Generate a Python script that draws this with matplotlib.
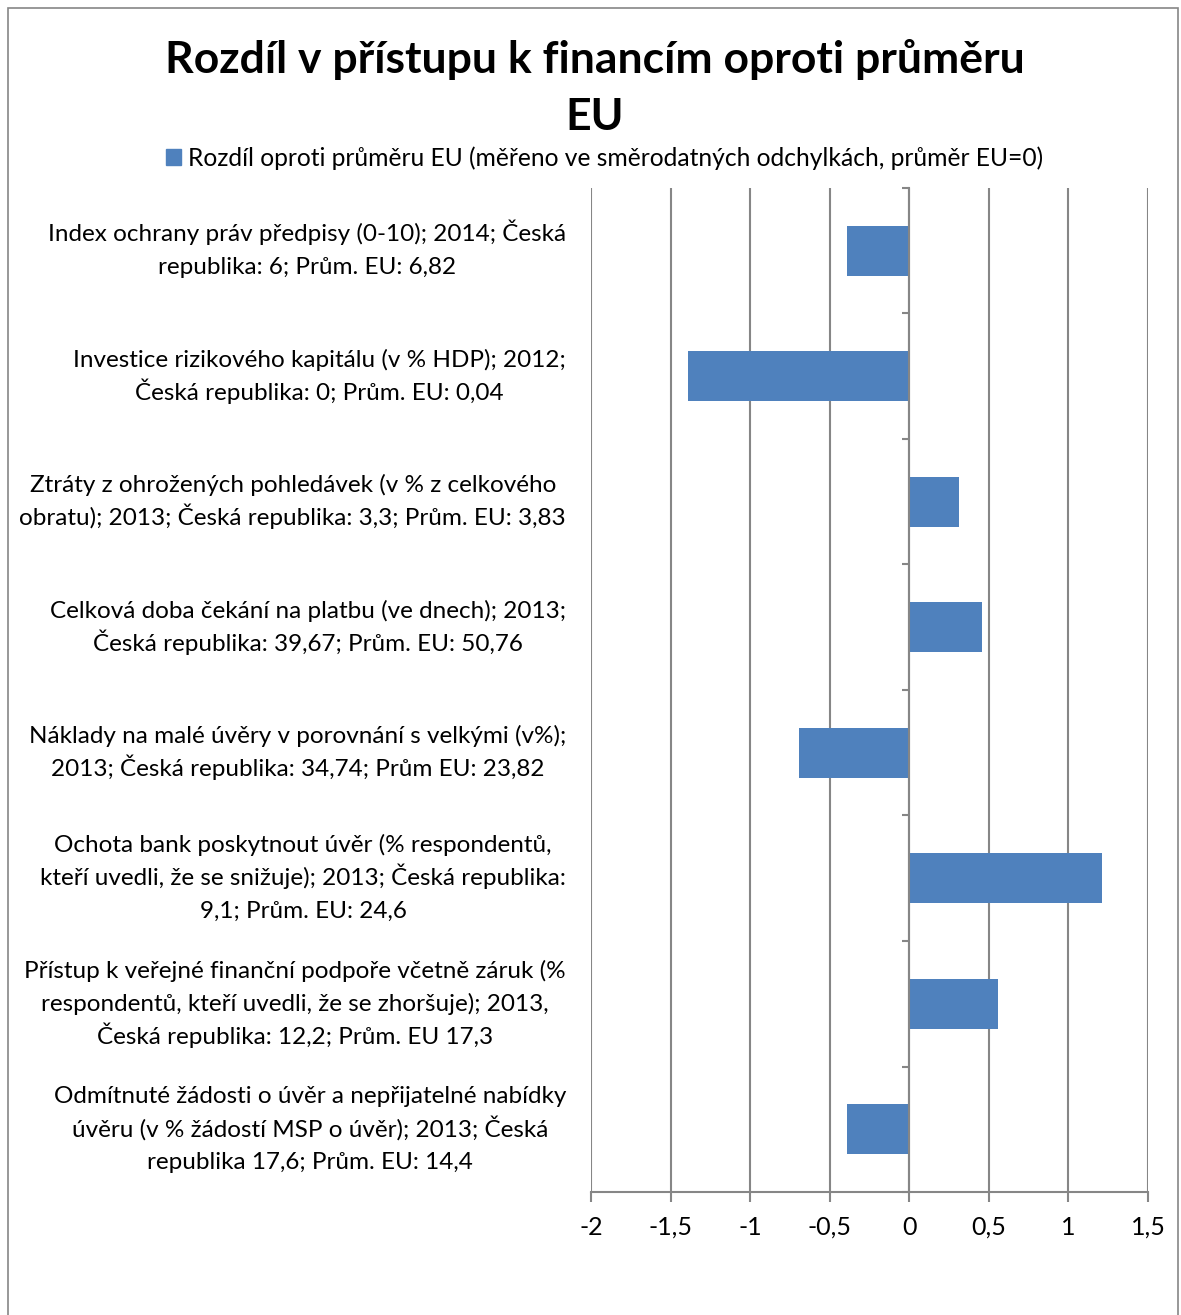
import matplotlib
matplotlib.use('Agg')
import matplotlib.pyplot as plt
from matplotlib.patches import Rectangle, Patch
import matplotlib.transforms as mtransforms

plt.rcParams['font.family'] = ['Lato', 'DejaVu Sans']

# popisky kategorii (shora dolu)
labels = [
    'Index ochrany práv předpisy (0-10); 2014; Česká\nrepublika: 6; Prům. EU: 6,82',
    'Investice rizikového kapitálu (v % HDP); 2012;\nČeská republika: 0; Prům. EU: 0,04',
    'Ztráty z ohrožených pohledávek (v % z celkového\nobratu); 2013; Česká republika: 3,3; Prům. EU: 3,83',
    'Celková doba čekání na platbu (ve dnech); 2013;\nČeská republika: 39,67; Prům. EU: 50,76',
    'Náklady na malé úvěry v porovnání s velkými (v%);\n2013; Česká republika: 34,74; Prům EU: 23,82',
    'Ochota bank poskytnout úvěr (% respondentů,\nkteří uvedli, že se snižuje); 2013; Česká republika:\n9,1; Prům. EU: 24,6',
    'Přístup k veřejné finanční podpoře včetně záruk (%\nrespondentů, kteří uvedli, že se zhoršuje); 2013,\nČeská republika: 12,2; Prům. EU 17,3',
    'Odmítnuté žádosti o úvěr a nepřijatelné nabídky\núvěru (v % žádostí MSP o úvěr); 2013; Česká\nrepublika 17,6; Prům. EU: 14,4',
]
# rozdil oproti prumeru EU (smerodatne odchylky)
values = [-0.39, -1.39, 0.31, 0.46, -0.69, 1.21, 0.56, -0.39]
xticks = [-2, -1.5, -1, -0.5, 0, 0.5, 1, 1.5]
xtick_labels = ['-2', '-1,5', '-1', '-0,5', '0', '0,5', '1', '1,5']

W, H = 1181, 1315
fig = plt.figure(figsize=(W / 100, H / 100), dpi=100)

# ramecek grafu
fig.patches.append(Rectangle((8 / W, -0.05), (1178 - 8) / W, 1.05 - 8 / H,
                             transform=fig.transFigure, fill=False,
                             edgecolor='#868686', linewidth=1.2))

ax = fig.add_axes([591 / W, 1 - 1192 / H, (1148 - 591) / W, (1192 - 188) / H])
grey = '#868686'

pos = [i + 0.5 for i in range(len(values))]
ax.barh(pos, values, height=0.4, color='#4F81BD', zorder=3)

ax.set_xlim(-2, 1.5)
ax.set_ylim(len(values), 0)
ax.set_xticks(xticks)
ax.set_xticklabels(xtick_labels, fontsize=18)
ax.tick_params(axis='x', length=7, width=1.5, color=grey, pad=10)
for x in xticks:
    ax.axvline(x, color=grey, linewidth=1.5, zorder=1)

# osa y prochazi nulou
ax.spines['left'].set_position(('data', 0))
ax.spines['left'].set_color(grey)
ax.spines['left'].set_linewidth(1.5)
ax.spines['left'].set_zorder(4)
ax.spines['right'].set_visible(False)
ax.spines['top'].set_visible(False)
ax.spines['bottom'].set_color(grey)
ax.spines['bottom'].set_linewidth(1.5)
ax.set_yticks(range(len(values) + 1))
ax.set_yticklabels([])
ax.tick_params(axis='y', length=5, width=1.5, color=grey)

# popisky po radcich, aby byl stejny radkovy rozestup (33 px)
trans = mtransforms.blended_transform_factory(fig.transFigure, ax.transData)
renderer = fig.canvas.get_renderer()
right_px = 566
for p, lab in zip(pos, labels):
    lines = lab.split('\n')
    n = len(lines)
    texts = []
    for k, line in enumerate(lines):
        off = (((n - 1) / 2 - k) * 33 - 7) / 100
        tr = trans + mtransforms.ScaledTranslation(0, off, fig.dpi_scale_trans)
        texts.append(ax.text(right_px / W, p, line, transform=tr, ha='center',
                             va='baseline', fontsize=17.5))
    maxw = max(t.get_window_extent(renderer).width for t in texts)
    for t in texts:
        t.set_x((right_px - maxw / 2) / W)

fig.text(595 / W, 1 - 60 / H, 'Rozdíl v přístupu k financím oproti průměru',
         ha='center', va='center', fontsize=32, fontweight='bold')
fig.text(595 / W, 1 - 117 / H, 'EU',
         ha='center', va='center', fontsize=32, fontweight='bold')

fig.legend(handles=[Patch(color='#4F81BD')],
           labels=['Rozdíl oproti průměru EU (měřeno ve směrodatných odchylkách, průměr EU=0)'],
           loc='center', bbox_to_anchor=(605 / W, 1 - 158 / H), frameon=False,
           fontsize=17.7, handlelength=0.6, handleheight=0.6, handletextpad=0.3)

fig.savefig('out.png', dpi=100)
